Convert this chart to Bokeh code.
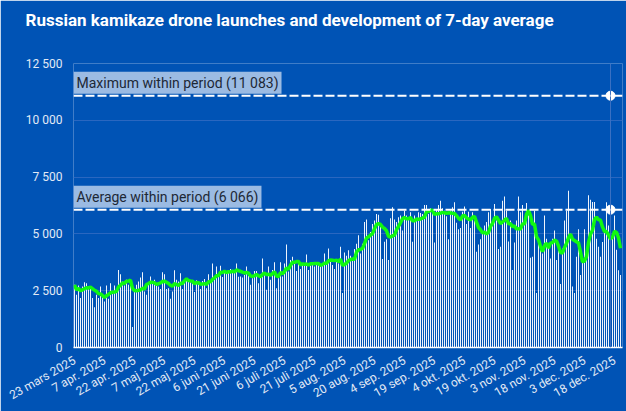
import pandas as pd
from bokeh.plotting import figure
from bokeh.models import ColumnDataSource, FixedTicker, Span, Label, Range1d, Title
from bokeh.embed import file_html
from bokeh.resources import INLINE

title = "Russian kamikaze drone launches and development of 7-day average"

# daily launches from 23 March 2025
mar = [2760, 2320, 2730, 2180, 2690, 2870, 2830, 2690, 2640]
apr = [2180, 1770, 2320, 2180, 2690, 2250, 2030, 2730, 2150, 2830,
       2350, 2730, 2470, 3410, 3220, 2900, 2730, 2980, 2760, 2730,
       900, 2580, 2760, 2900, 3080, 3310, 2470, 2320, 2870, 3120]
may = [2900, 2980, 2760, 2690, 2580, 3310, 3220, 2580, 2610, 2150,
       2470, 3400, 2980, 2900, 3270, 2580, 2980, 3020, 2900, 2870,
       2830, 2440, 2960, 2930, 2580, 2930, 3020, 2610, 3220, 2930, 3700]
jun = [3050, 3560, 3120, 3600, 3100, 3340, 3300, 3350, 3450, 3400,
       3350, 3700, 3110, 3120, 3080, 3190, 3560, 3170, 2760, 3050,
       3370, 3370, 2830, 3220, 3920, 3170, 2540, 3560, 2980, 3410]
jul = [3750, 2610, 3050, 3750, 3120, 3700, 4530, 3340, 3850, 3990,
       3700, 3370, 3750, 3460, 3660, 3700, 4090, 3410, 3700, 3750,
       3570, 3630, 3710, 3560, 3630, 4140, 3700, 4360, 3850, 3630, 3460]
aug = [3770, 3700, 4430, 2400, 4180, 4040, 4280, 4040, 3920, 4330,
       4570, 4940, 4140, 4570, 5520, 5630, 4720, 5080, 5440, 5590,
       5880, 5840, 5370, 3890, 4650, 4760, 3850, 5690, 6170, 5630, 5520]
sep = [5730, 5810, 5150, 6020, 5810, 5630, 5950, 4650, 5810, 5690,
       5950, 5920, 5880, 6270, 6270, 5880, 6130, 5950, 4620, 6070,
       6270, 6460, 6130, 6020, 5780, 4760, 6020, 6170, 6390, 5490]
okt = [5200, 5260, 5980, 6210, 5440, 5980, 5260, 5950, 5590, 4210,
       4530, 4760, 5080, 5370, 5520, 5950, 6100, 5440, 6320, 5590,
       4330, 4430, 6460, 6650, 6020, 4670, 5590, 3410, 4620, 5590, 6650]
nov = [5950, 6270, 5630, 6360, 5810, 3950, 3990, 6020, 2400, 4650,
       4360, 4140, 5810, 4790, 4500, 3920, 4790, 5150, 3850, 4280,
       2790, 4360, 5590, 6020, 6900, 5010, 2690, 2400, 3990, 5200]
dec = [3190, 3920, 5200, 4200, 6700, 6500, 6400, 6400, 4790, 4430,
       3990, 4640, 5080, 6390, 5370, 3560, 4940, 5810, 4300, 3400, 3190]

launches = mar + apr + may + jun + jul + aug + sep + okt + nov + dec
max_value = 11083
avg_value = 6066
hover_date = "2025-12-16"

tick_dates = ["2025-03-23", "2025-04-07", "2025-04-22", "2025-05-07", "2025-05-22",
              "2025-06-06", "2025-06-21", "2025-07-06", "2025-07-21", "2025-08-05",
              "2025-08-20", "2025-09-04", "2025-09-19", "2025-10-04", "2025-10-19",
              "2025-11-03", "2025-11-18", "2025-12-03", "2025-12-18"]
tick_labels = ["23 mars 2025", "7 apr. 2025", "22 apr. 2025", "7 maj 2025", "22 maj 2025",
               "6 juni 2025", "21 juni 2025", "6 juli 2025", "21 juli 2025", "5 aug. 2025",
               "20 aug. 2025", "4 sep. 2025", "19 sep. 2025", "4 okt. 2025", "19 okt. 2025",
               "3 nov. 2025", "18 nov. 2025", "3 dec. 2025", "18 dec. 2025"]
y_ticks = [0, 2500, 5000, 7500, 10000, 12500]
y_labels = ["0", "2 500", "5 000", "7 500", "10 000", "12 500"]

BG = "#0053b5"
DAY = 86400000


def ms(s):
    return pd.Timestamp(s).value / 1e6


df = pd.DataFrame({"date": pd.date_range("2025-03-23", periods=len(launches), freq="D"),
                   "launches": launches})
df["avg7"] = df["launches"].rolling(7, min_periods=1).mean()
df["color"] = ["#0b3d8c" if d == pd.Timestamp(hover_date) else "#eef4fc" for d in df["date"]]
src = ColumnDataSource(df)

x0 = ms("2025-03-22 12:00")
x1 = ms("2025-12-22")
p = figure(width=626, height=411, x_axis_type="datetime", title=None,
           x_range=Range1d(x0, x1), y_range=Range1d(0, 12500),
           toolbar_location=None, output_backend="svg",
           min_border_left=73, min_border_right=4, min_border_top=63, min_border_bottom=61)
p.background_fill_color = BG
p.border_fill_color = BG
p.outline_line_color = None

# two blank lines under the title lift it away from the frame
p.add_layout(Title(text=title + "\n \n ", align="left", offset=-48, standoff=0,
                   text_line_height=0.85, text_color="white", text_font="Roboto",
                   text_font_size="17px", text_font_style="bold"), "above")

p.vbar(x="date", top="launches", bottom=0, width=0.5 * DAY, fill_color="color",
       line_color=None, source=src)
p.line(x="date", y="avg7", line_color="#10f810", line_width=3.5, source=src)

p.add_layout(Span(location=ms(hover_date), dimension="height", line_color="#3a70c2", line_width=1))
for v in [max_value, avg_value]:
    p.add_layout(Span(location=v, dimension="width", line_color="white", line_width=2, line_dash="9 3"))
p.scatter([ms(hover_date)] * 2, [max_value, avg_value], size=9, fill_color="white", line_color="white")

lab_style = dict(x=x0, x_offset=0, y_offset=2, text_font="Roboto", text_font_size="14px",
                 text_color="#1d2836", background_fill_color="#9bbbe3", text_baseline="bottom",
                 padding=3)
p.add_layout(Label(y=max_value, text="Maximum within period (11 083)", **lab_style))
p.add_layout(Label(y=avg_value, text="Average within period (6 066)", **lab_style))

p.ygrid.grid_line_color = "#2a67c0"
p.xgrid.grid_line_color = None

p.yaxis.ticker = FixedTicker(ticks=y_ticks)
p.yaxis.major_label_overrides = dict(zip(y_ticks, y_labels))
p.yaxis.axis_line_color = None
p.yaxis.major_tick_line_color = None
p.yaxis.minor_tick_line_color = None
p.yaxis.major_tick_out = 0
p.yaxis.major_label_standoff = 11
p.yaxis.major_label_text_color = "#e2eaf6"
p.yaxis.major_label_text_font = "Roboto"
p.yaxis.major_label_text_font_size = "12px"

xt = [ms(d) for d in tick_dates]
p.xaxis.ticker = FixedTicker(ticks=xt)
p.xaxis.major_label_overrides = dict(zip(xt, tick_labels))
p.xaxis.major_label_orientation = 0.52
p.xaxis.axis_line_color = "white"
p.xaxis.axis_line_width = 1.5
p.xaxis.major_tick_line_color = None
p.xaxis.minor_tick_line_color = None
p.xaxis.major_tick_out = 0
p.xaxis.major_label_standoff = 12
p.xaxis.major_label_text_color = "#e2eaf6"
p.xaxis.major_label_text_font = "Roboto"
p.xaxis.major_label_text_font_size = "12px"

open("out.html", "w").write(file_html(p, INLINE))
